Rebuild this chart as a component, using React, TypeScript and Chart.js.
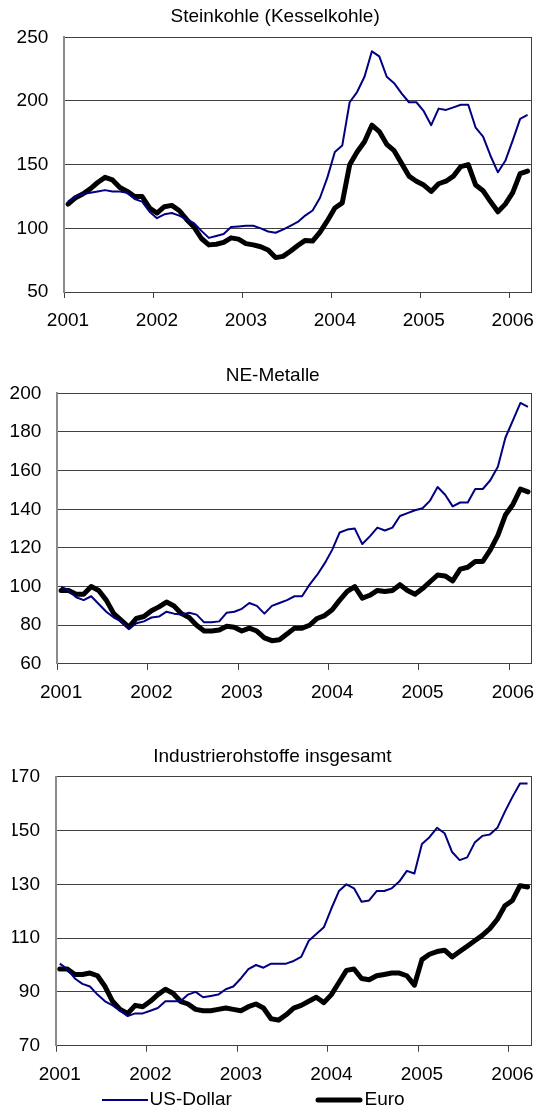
import React, { useEffect, useRef } from "react";
import { Chart, registerables } from "chart.js";

Chart.register(...registerables);

// ---------- data ----------
const months = [
  "2001-01","2001-02","2001-03","2001-04","2001-05","2001-06","2001-07","2001-08","2001-09","2001-10","2001-11","2001-12",
  "2002-01","2002-02","2002-03","2002-04","2002-05","2002-06","2002-07","2002-08","2002-09","2002-10","2002-11","2002-12",
  "2003-01","2003-02","2003-03","2003-04","2003-05","2003-06","2003-07","2003-08","2003-09","2003-10","2003-11","2003-12",
  "2004-01","2004-02","2004-03","2004-04","2004-05","2004-06","2004-07","2004-08","2004-09","2004-10","2004-11","2004-12",
  "2005-01","2005-02","2005-03","2005-04","2005-05","2005-06","2005-07","2005-08","2005-09","2005-10","2005-11","2005-12",
  "2006-01","2006-02","2006-03",
];
const yearLabels = ["2001", "2002", "2003", "2004", "2005", "2006"];
const seriesLabels = ["US-Dollar", "Euro"];
const panelTitles = ["Steinkohle (Kesselkohle)", "NE-Metalle", "Industrierohstoffe insgesamt"];

const coalYTicks = [50, 100, 150, 200, 250];
const metalsYTicks = [60, 80, 100, 120, 140, 160, 180, 200];
const totalYTicks = [70, 90, 110, 130, 150, 170];

const coalUsd = [
  121, 125, 127, 128, 129, 130, 129, 129, 128, 123,
  121, 113, 108, 111, 112, 110, 107, 104, 98, 92.5,
  94, 95.5, 101, 101.5, 102, 102, 100, 97.5, 96.5, 99,
  102, 105, 110, 114, 124, 140, 160, 165, 199, 207,
  219, 239, 235, 219, 214, 206, 199, 199, 192, 181,
  194, 193, 195, 197, 197, 179, 172, 157, 144, 153,
  169, 186, 189,
];
const coalEur = [
  119, 124, 127, 131, 136, 140, 138, 132, 129, 125,
  125, 116, 112, 117, 118, 114, 107, 101, 92, 87,
  87.5, 89, 92.5, 91.5, 88, 87, 85.5, 83, 77, 78,
  82, 86.5, 90.5, 90, 97, 106, 116, 120, 150, 160,
  168, 181, 176, 166, 161, 151, 141, 137, 134, 129,
  135, 137, 141, 148.5, 150, 134, 129.5, 121, 113, 119,
  128, 143, 145,
];
const metalsUsd = [
  100, 98, 94.5, 93, 95, 91, 87, 84, 82, 78,
  81, 82, 84, 84.5, 87, 86, 85.5, 86.5, 85.5, 81.5,
  81.5, 82, 86.5, 87, 88.5, 91.5, 90, 86, 90, 91.5,
  93, 95, 95, 101, 106, 112, 119, 128, 129.5, 130,
  122, 126, 130.5, 129, 130.5, 136.5, 138, 139.5, 140.5, 144.5,
  151.5, 147.5, 141.5, 143.5, 143.5, 150.5, 150.5, 155, 162, 177,
  186, 195, 193,
];
const metalsEur = [
  98, 98, 96, 96, 100, 98, 93, 86, 82.5, 79,
  83.5, 84.5, 87.5, 89.5, 92, 90, 86, 84, 80, 77,
  77, 77.5, 79.5, 79, 77, 78.5, 77, 73.5, 72, 72.5,
  75.5, 78.5, 78.5, 80, 83.5, 85, 88, 93, 97.5, 100,
  94, 95.5, 98, 97.5, 98, 101, 98, 96, 99, 102.5,
  106, 105.5, 103, 109, 110, 113, 113, 119, 126.5, 137,
  142.5, 150.5, 149,
];
const totalUsd = [
  100.5, 98.5, 95, 93, 92, 89, 86.5, 85, 83, 81,
  82, 82, 83, 84, 86.5, 86.5, 86.5, 89, 90, 88,
  88.5, 89, 91, 92, 95, 98.5, 100, 99, 100.5, 100.5,
  100.5, 101.5, 103, 109, 111.5, 114, 121, 127.5, 130, 128.5,
  123.5, 124, 127.5, 127.5, 128.5, 131, 135, 134, 145, 147.5,
  151, 149, 142, 139, 140, 145.5, 148, 148.5, 151, 157,
  162.5, 167.5, 167.5,
];
const totalEur = [
  98.5, 98.5, 96.5, 96.5, 97, 96, 92, 86.5, 83.5, 82,
  85, 84.5, 86.5, 89, 91, 89.5, 86.5, 85.5, 83.5, 83,
  83, 83.5, 84, 83.5, 83, 84.5, 85.5, 84, 80, 79.5,
  81.5, 84, 85, 86.5, 88, 86, 89, 93.5, 98, 98.5,
  95, 94.5, 96, 96.5, 97, 97, 96, 92.5, 102, 104,
  105, 105.5, 103, 105, 107, 109, 111, 113.5, 117, 122,
  124, 129.5, 129,
];

// ---------- styles / layout ----------
const FONT = '"Liberation Sans", Arial, Helvetica, sans-serif';
const FS = 19;
const GRID = "#404040";
const USD_COLOR = "#000080";
const EUR_COLOR = "#000000";

type Geo = {
  top: number; height: number; padL: number; padR: number; padB: number;
  yW: number; titleTop: number; titleBottom: number; xPad: number;
};

const geos: Geo[] = [
  { top: 0, height: 345, padL: 17, padR: 5.7, padB: 1.4, yW: 47.3, titleTop: 5.6, titleBottom: 8.9, xPad: 11.4 },
  { top: 345, height: 370, padL: 9.4, padR: 3, padB: 0.3, yW: 47.9, titleTop: 19.6, titleBottom: 5.9, xPad: 11 },
  { top: 715, height: 393, padL: 12.5, padR: 6.7, padB: 10.7, yW: 43.5, titleTop: 30.3, titleBottom: 8.6, xPad: 11.4 },
];

// legend drawn below the last chart
const legendItemsPos = [
  { lineStart: 102, lineEnd: 148, textX: 149.5 },
  { lineStart: 318, lineEnd: 360, textX: 364.5 },
];
const legendOffsetY = 54.3;

const bottomLegend = {
  id: "bottomLegend",
  afterDraw(chart: any) {
    const { ctx, chartArea } = chart;
    const y = chartArea.bottom + legendOffsetY;
    chart.data.datasets.forEach((ds: any, i: number) => {
      const pos = legendItemsPos[i];
      if (!pos) return;
      ctx.save();
      ctx.strokeStyle = ds.borderColor;
      ctx.lineWidth = ds.borderWidth;
      ctx.lineCap = ds.borderCapStyle || "butt";
      ctx.beginPath();
      ctx.moveTo(pos.lineStart, y);
      ctx.lineTo(pos.lineEnd, y);
      ctx.stroke();
      ctx.fillStyle = "#000";
      ctx.font = `${FS}px ${FONT}`;
      ctx.textBaseline = "middle";
      ctx.textAlign = "left";
      ctx.fillText(ds.label, pos.textX, y);
      ctx.restore();
    });
  },
};

type PanelProps = {
  title: string;
  usd: number[];
  eur: number[];
  yTicks: number[];
  geo: Geo;
  showLegend: boolean;
};

function ChartPanel({ title, usd, eur, yTicks, geo, showLegend }: PanelProps) {
  const ref = useRef<HTMLCanvasElement>(null);

  useEffect(() => {
    if (!ref.current) return;
    const yMin = yTicks[0];
    const yMax = yTicks[yTicks.length - 1];
    const step = yTicks[1] - yTicks[0];
    const tickFont = { family: FONT, size: FS };

    const chart = new Chart(ref.current, {
      type: "line",
      data: {
        labels: months,
        datasets: [
          {
            label: seriesLabels[0],
            data: usd,
            borderColor: USD_COLOR,
            backgroundColor: USD_COLOR,
            borderWidth: 2,
            pointRadius: 0,
            tension: 0,
            borderJoinStyle: "round",
            fill: false,
          },
          {
            label: seriesLabels[1],
            data: eur,
            borderColor: EUR_COLOR,
            backgroundColor: EUR_COLOR,
            borderWidth: 5,
            pointRadius: 0,
            tension: 0,
            borderJoinStyle: "round",
            borderCapStyle: "round",
            fill: false,
          },
        ],
      },
      options: {
        responsive: false,
        animation: false,
        events: [],
        layout: { padding: { left: geo.padL, right: geo.padR, top: 0, bottom: geo.padB } },
        plugins: {
          legend: { display: false },
          tooltip: { enabled: false },
          title: {
            display: true,
            text: title,
            color: "#000",
            font: { family: FONT, size: FS, weight: "normal" },
            padding: { top: geo.titleTop, bottom: geo.titleBottom },
          },
        },
        scales: {
          x: {
            type: "category",
            offset: true,
            grid: {
              display: true,
              offset: true,
              drawOnChartArea: false,
              drawTicks: true,
              tickLength: 6,
              lineWidth: 1,
              tickColor: (c: any) => (c.index !== undefined && c.index % 12 === 0 ? GRID : "rgba(0,0,0,0)"),
            },
            border: { display: true, color: GRID, width: 1 },
            ticks: {
              autoSkip: false,
              maxRotation: 0,
              minRotation: 0,
              padding: geo.xPad,
              color: "#000",
              font: tickFont,
              callback: (_v: any, i: number) => (i % 12 === 0 ? yearLabels[i / 12] : ""),
            },
          },
          y: {
            position: "left",
            min: yMin,
            max: yMax,
            grid: { color: GRID, lineWidth: 1, drawTicks: false },
            border: { display: true, color: "#8c8c8c", width: 2 },
            ticks: { stepSize: step, padding: 16, color: "#000", font: tickFont },
            afterFit: (s: any) => {
              s.width = geo.yW;
            },
          },
          yR: {
            position: "right",
            display: true,
            min: yMin,
            max: yMax,
            grid: { display: true, drawOnChartArea: false, drawTicks: false },
            border: { display: true, color: GRID, width: 1 },
            ticks: { display: false },
            afterFit: (s: any) => {
              s.width = 0;
            },
          },
        },
      } as any,
      plugins: showLegend ? [bottomLegend] : [],
    });
    return () => chart.destroy();
  }, []);

  return (
    <canvas
      ref={ref}
      width={539}
      height={geo.height}
      style={{ display: "block", width: 539, height: geo.height }}
    />
  );
}

export default function App() {
  const panels = [
    { title: panelTitles[0], usd: coalUsd, eur: coalEur, yTicks: coalYTicks },
    { title: panelTitles[1], usd: metalsUsd, eur: metalsEur, yTicks: metalsYTicks },
    { title: panelTitles[2], usd: totalUsd, eur: totalEur, yTicks: totalYTicks },
  ];
  return (
    <div
      style={{
        position: "absolute",
        left: 0,
        top: 0,
        width: 539,
        height: 1108,
        overflow: "hidden",
        background: "#fff",
      }}
    >
      {panels.map((p, i) => (
        <div key={i} style={{ position: "absolute", left: 0, top: geos[i].top }}>
          <ChartPanel
            title={p.title}
            usd={p.usd}
            eur={p.eur}
            yTicks={p.yTicks}
            geo={geos[i]}
            showLegend={i === panels.length - 1}
          />
        </div>
      ))}
    </div>
  );
}
